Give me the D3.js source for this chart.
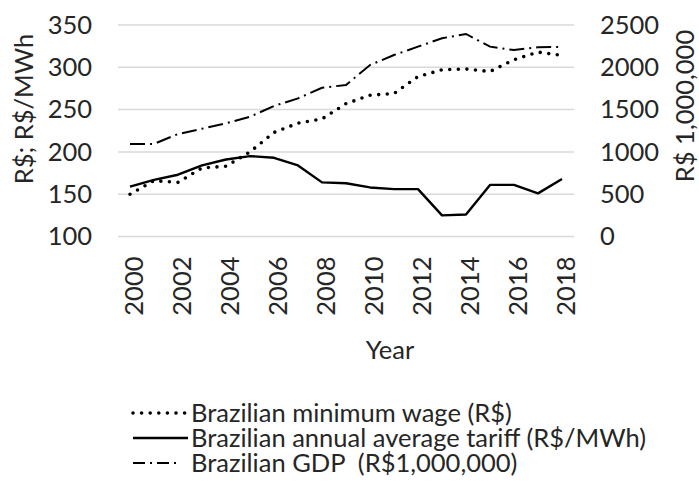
<!DOCTYPE html>
<html><head><meta charset="utf-8">
<script src="https://cdn.jsdelivr.net/npm/d3@7"></script>
<style>
html,body{margin:0;padding:0;background:#fff;}
svg{display:block;font-family:Lato,"Open Sans",sans-serif;}
</style></head>
<body>
<svg id="c" width="699" height="482"></svg>
<script>
const years = [2000,2001,2002,2003,2004,2005,2006,2007,2008,2009,2010,2011,2012,2013,2014,2015,2016,2017,2018];
const xTickLabels = ["2000","2002","2004","2006","2008","2010","2012","2014","2016","2018"];
const minimumWage = [150,166,164,181,183,200,223,234,239,257,267,269,289,297,298,295,309,318,314];
const tariff = [159,167,173,184,191,195,193,184,164,163,158,156,156,125,126,161,161,151,168];
const gdp = [1093,1095,1211,1274,1338,1416,1543,1633,1758,1791,2027,2145,2244,2343,2394,2244,2204,2237,2240];
const leftTicks = [100,150,200,250,300,350];
const rightTicks = [0,500,1000,1500,2000,2500];
const legendLabels = ["Brazilian minimum wage (R$)","Brazilian annual average tariff (R$/MWh)","Brazilian GDP\u00a0 (R$1,000,000)"];

const svg = d3.select("#c");
const textColor = "#262626";
const fs = 25.5;

const x = d3.scalePoint().domain(years).range([118,574]).padding(0.5);
const yL = d3.scaleLinear().domain([100,350]).range([236.5,25]);
const yR = d3.scaleLinear().domain([0,2500]).range([236.5,25]);

// gridlines
svg.append("g").selectAll("line").data(leftTicks).join("line")
  .attr("x1",118).attr("x2",574)
  .attr("y1",d=>yL(d)).attr("y2",d=>yL(d))
  .attr("stroke","#d9d9d9").attr("stroke-width",1.5);

// left axis
const gl = svg.append("g").attr("transform","translate(118,0)")
  .call(d3.axisLeft(yL).tickValues(leftTicks).tickSize(0).tickPadding(26));
gl.select(".domain").remove();
gl.selectAll("text").attr("font-size",fs).attr("fill",textColor).attr("font-family","Lato");

// right axis
const gr = svg.append("g").attr("transform","translate(574,0)")
  .call(d3.axisRight(yR).tickValues(rightTicks).tickFormat(d3.format("d")).tickSize(0).tickPadding(26));
gr.select(".domain").remove();
gr.selectAll("text").attr("font-size",fs).attr("fill",textColor).attr("font-family","Lato");

// bottom axis
const gb = svg.append("g").attr("transform","translate(0,236.5)")
  .call(d3.axisBottom(x).tickValues(years.filter(y=>xTickLabels.includes(String(y)))).tickSize(0).tickPadding(0));
gb.select(".domain").remove();
gb.selectAll("text")
  .attr("font-size",fs).attr("fill",textColor).attr("font-family","Lato")
  .attr("transform","translate(4,20) rotate(-90)")
  .attr("x",0).attr("y",0).attr("dy","0.35em")
  .attr("text-anchor","end");

// axis titles
svg.append("text").attr("transform","translate(24,109) rotate(-90)")
  .attr("text-anchor","middle").attr("dy","0.35em")
  .attr("font-size",fs).attr("fill",textColor).text("R$; R$/MWh");
svg.append("text").attr("transform","translate(685,106) rotate(-90)")
  .attr("text-anchor","middle").attr("dy","0.35em")
  .attr("font-size",fs).attr("fill",textColor).text("R$ 1,000,000");
svg.append("text").attr("x",390).attr("y",350).attr("dy","0.35em")
  .attr("text-anchor","middle").attr("font-size",fs).attr("fill",textColor).text("Year");

// lines
const lineL = d3.line().x((d,i)=>x(years[i])).y(d=>yL(d));
const lineR = d3.line().x((d,i)=>x(years[i])).y(d=>yR(d));

const styles = [
  {dash:"0,8.6", width:3.6, cap:"round"},
  {dash:null, width:2.4, cap:"butt"},
  {dash:"15,5,2,5", width:2, cap:"butt"}
];

svg.append("path").datum(gdp).attr("d",lineR).attr("fill","none")
  .attr("stroke","#000").attr("stroke-width",styles[2].width).attr("stroke-dasharray",styles[2].dash);
svg.append("path").datum(tariff).attr("d",lineL).attr("fill","none")
  .attr("stroke","#000").attr("stroke-width",styles[1].width).attr("stroke-linejoin","round");
svg.append("path").datum(minimumWage).attr("d",lineL).attr("fill","none")
  .attr("stroke","#000").attr("stroke-width",styles[0].width).attr("stroke-dasharray",styles[0].dash)
  .attr("stroke-linecap","round");

// legend
const lg = svg.append("g");
const rowY = [413,438,463];
legendLabels.forEach((lab,i)=>{
  const st = styles[i];
  const x1 = 133, x2 = i===2 ? 178 : 188;
  const l = lg.append("line").attr("x1",x1).attr("x2",x2).attr("y1",rowY[i]).attr("y2",rowY[i])
    .attr("stroke","#000").attr("stroke-width",st.width).attr("stroke-linecap",st.cap);
  if(st.dash) l.attr("stroke-dasharray", i===2 ? "12,5,2,5" : st.dash);
  lg.append("text").attr("x",191).attr("y",rowY[i]).attr("dy","0.35em")
    .attr("font-size",fs).attr("fill",textColor).text(lab);
});
</script>
</body></html>
